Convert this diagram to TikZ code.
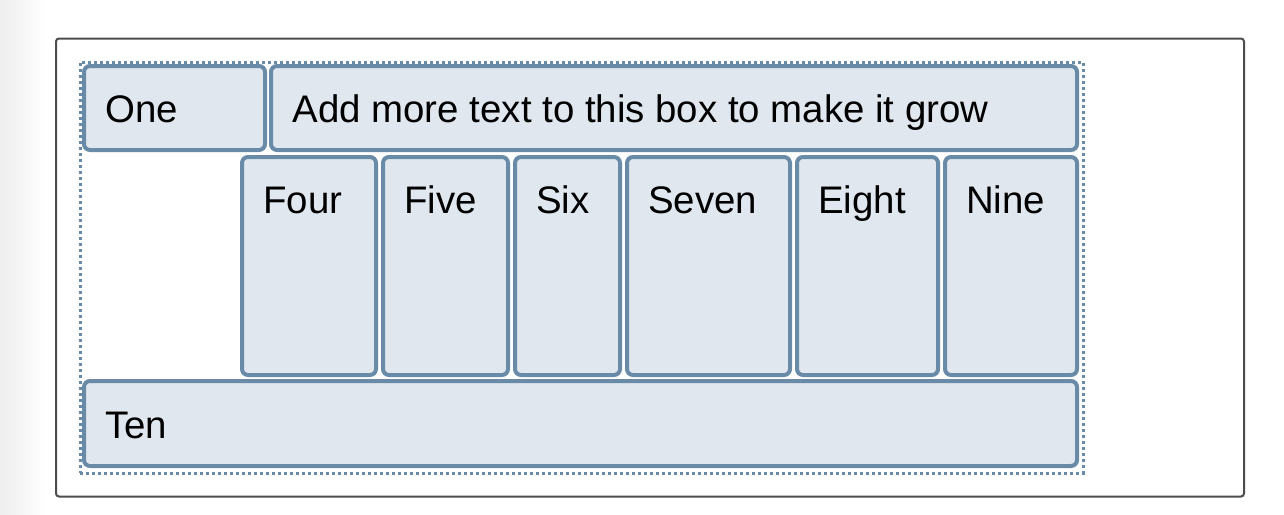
\documentclass[tikz,border=0pt]{standalone}
\usepackage{fontspec}
\setmainfont{Liberation Sans}
\usetikzlibrary{calc}
\definecolor{boxc}{HTML}{6A8BA7}
\definecolor{boxf}{HTML}{E0E7EE}
\definecolor{framec}{HTML}{4D4D4D}
\tikzset{
  box/.style={draw=boxc, fill=boxf, line width=4pt, rounded corners=6pt, inner sep=0pt, outer sep=0pt, anchor=north west},
  lbl/.style={anchor=base west, inner sep=0pt, font=\fontsize{38.4}{46}\selectfont},
}
\begin{document}
\begin{tikzpicture}[x=1pt,y=-1pt]
\useasboundingbox (0,0) rectangle (1284,514);
\shade[left color=black!7, right color=white] (0,0) rectangle (45,514);
\fill[white] (45,0) rectangle (1284,514);
\node[draw=framec, line width=2pt, rounded corners=3pt, inner sep=0pt, anchor=north west, minimum width=1188pt, minimum height=458pt] (frame) at (55,37.5) {};
\node[draw=boxc, line width=3.5pt, dash pattern=on 3pt off 3pt, inner sep=0pt, anchor=north west, minimum width=1003pt, minimum height=411pt] (cont) at (78.5,60.5) {};
\node[box, minimum width=181pt, minimum height=84pt] (one) at (84,66) {};
\node[box, minimum width=806pt, minimum height=84pt] (add) at (271,66) {};
\node[box, minimum width=134pt, minimum height=218pt] (four) at (242,157) {};
\node[box, minimum width=125pt, minimum height=218pt] (five) at (383,157) {};
\node[box, minimum width=105pt, minimum height=218pt] (six) at (515,157) {};
\node[box, minimum width=163pt, minimum height=218pt] (seven) at (627,157) {};
\node[box, minimum width=141pt, minimum height=218pt] (eight) at (797,157) {};
\node[box, minimum width=132pt, minimum height=218pt] (nine) at (945,157) {};
\node[box, minimum width=993pt, minimum height=85pt] (ten) at (84,381) {};
\node[lbl] (tone) at ($(one.north west)+(21,56)$) {One};
\node[lbl] (tadd) at ($(add.north west)+(21.5,56)$) {Add more text to this box to make it grow};
\node[lbl] (tfour) at ($(four.north west)+(21,56)$) {Four};
\node[lbl] (tfive) at ($(five.north west)+(21,56)$) {Five};
\node[lbl] (tsix) at ($(six.north west)+(21,56)$) {Six};
\node[lbl] (tseven) at ($(seven.north west)+(21,56)$) {Seven};
\node[lbl] (teight) at ($(eight.north west)+(21,56)$) {Eight};
\node[lbl] (tnine) at ($(nine.north west)+(21,56)$) {Nine};
\node[lbl] (tten) at ($(ten.north west)+(21,57)$) {Ten};
\end{tikzpicture}
\end{document}
